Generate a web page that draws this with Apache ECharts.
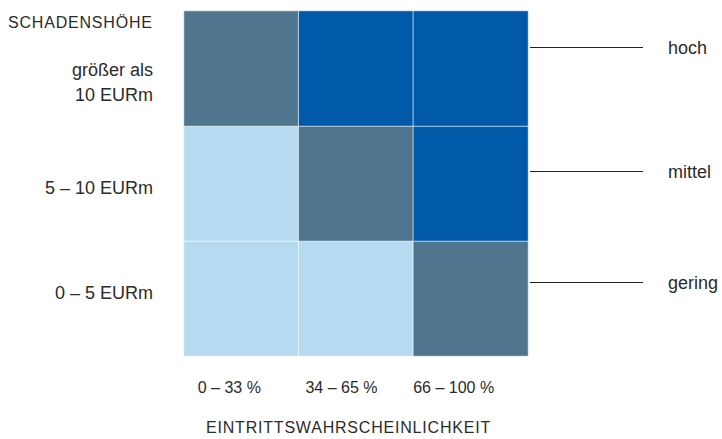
<!DOCTYPE html>
<html>
<head>
<meta charset="utf-8">
<script src="https://cdn.jsdelivr.net/npm/echarts@6/dist/echarts.min.js"></script>
<style>
  html, body { margin: 0; padding: 0; background: #fff; }
  #chart { width: 722px; height: 439px; }
  text[fill="#2b2b2c"] { letter-spacing: 0.8px; }
</style>
</head>
<body>
<div id="chart"></div>
<script>
// ---- data ----
const probabilityCats = ['0 – 33 %', '34 – 65 %', '66 – 100 %'];
const damageCats = ['0 – 5 EURm', '5 – 10 EURm', 'größer als 10 EURm'];
const riskLevels = ['gering', 'mittel', 'hoch'];
// risk level index (0 = gering, 1 = mittel, 2 = hoch) per probability column
const row0to5 = [0, 0, 1];
const row5to10 = [0, 1, 2];
const rowOver10 = [1, 2, 2];
const yAxisTitle = 'SCHADENSHÖHE';
const xAxisTitle = 'EINTRITTSWAHRSCHEINLICHKEIT';

// ---- build ----
const rows = [row0to5, row5to10, rowOver10];
const cells = [];
rows.forEach((row, yi) => row.forEach((lvl, xi) => cells.push([xi, yi, lvl])));

const levelColors = ['#b6dbf0', '#50768f', '#005aa9'];
const textColor = '#2b2b2b';
const spacedColor = '#2b2b2c';
const font = 'Liberation Sans, Arial, sans-serif';

const chart = echarts.init(document.getElementById('chart'), null, { renderer: 'svg' });

chart.setOption({
  animation: false,
  backgroundColor: '#ffffff',
  title: [
    { text: yAxisTitle, left: 8, top: 14, padding: 0,
      textStyle: { fontFamily: font, fontSize: 16, fontWeight: 'normal', color: spacedColor, lineHeight: 16 } },
    { text: xAxisTitle, left: 206, top: 419, padding: 0,
      textStyle: { fontFamily: font, fontSize: 16, fontWeight: 'normal', color: spacedColor, lineHeight: 16 } }
  ],
  grid: { left: 184, top: 11, right: 194, bottom: 83, containLabel: false },
  xAxis: {
    type: 'category',
    data: probabilityCats,
    axisLine: { show: false }, axisTick: { show: false }, splitLine: { show: false },
    axisLabel: {
      interval: 0,
      margin: 23,
      color: textColor,
      fontFamily: font,
      fontSize: 16,
      lineHeight: 16,
      formatter: (v, i) => '{p' + i + '|' + v + '}',
      rich: {
        p0: { padding: [0, 24, 0, 0], fontSize: 16, color: textColor, fontFamily: font },
        p1: { padding: [0, 29, 0, 0], fontSize: 16, color: textColor, fontFamily: font },
        p2: { padding: [0, 34, 0, 0], fontSize: 16, color: textColor, fontFamily: font }
      }
    }
  },
  yAxis: {
    type: 'category',
    data: damageCats,
    axisLine: { show: false }, axisTick: { show: false }, splitLine: { show: false },
    axisLabel: {
      interval: 0,
      margin: 31,
      align: 'right',
      color: textColor,
      fontFamily: font,
      fontSize: 18,
      formatter: (v, i) => {
        if (i === 2) {
          const parts = v.replace('als ', 'als\n').split('\n');
          return '{s28| }\n{a|' + parts[0] + '}\n{a|' + parts[1] + '}';
        }
        if (i === 1) return '{s9| }\n{a|' + v + '}';
        return '{a|' + v + '}\n{s11| }';
      },
      rich: {
        a: { fontSize: 18, lineHeight: 25, color: textColor, align: 'right', fontFamily: font },
        s28: { fontSize: 2, lineHeight: 28 },
        s9: { fontSize: 2, lineHeight: 9 },
        s11: { fontSize: 2, lineHeight: 11 }
      }
    }
  },
  visualMap: {
    show: false,
    type: 'piecewise',
    dimension: 2,
    pieces: riskLevels.map((name, i) => ({ value: i, color: levelColors[i], label: name }))
  },
  series: [{
    type: 'heatmap',
    data: cells,
    itemStyle: { borderColor: 'rgba(255,255,255,0.65)', borderWidth: 1 },
    label: { show: false },
    emphasis: { disabled: true }
  }],
  graphic: riskLevels.slice().reverse().map((name, i) => {
    const ys = [47.5, 171.5, 282.5];
    return {
      type: 'group',
      children: [
        { type: 'line', shape: { x1: 530, y1: ys[i], x2: 643, y2: ys[i] }, style: { stroke: '#222222', lineWidth: 1 } },
        { type: 'text', x: 668, y: ys[i], style: { text: name, fontSize: 18, fontFamily: font, fill: textColor, textVerticalAlign: 'middle', textAlign: 'left' } }
      ]
    };
  })
});

function applySpacing() {
  document.querySelectorAll('#chart text').forEach(t => {
    const s = t.textContent;
    if (s === yAxisTitle || s === xAxisTitle) t.setAttribute('letter-spacing', '0.8');
  });
}
chart.on('finished', applySpacing);
setTimeout(applySpacing, 50);
</script>
</body>
</html>
